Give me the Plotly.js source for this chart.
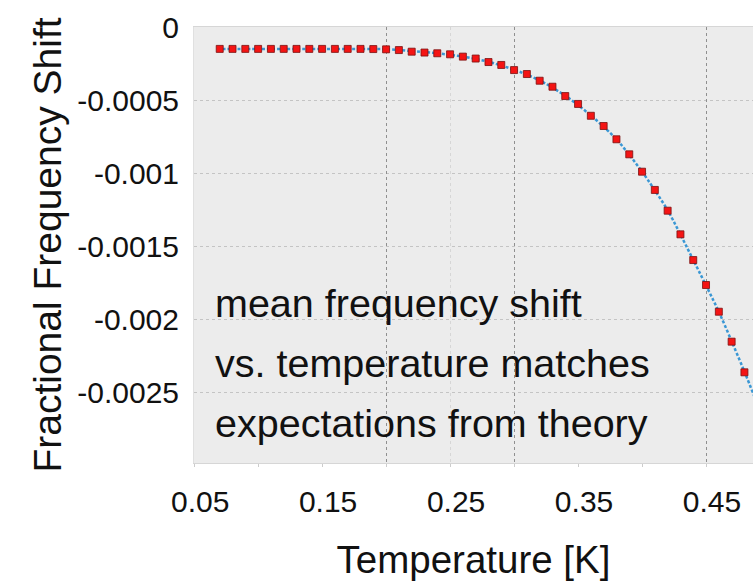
<!DOCTYPE html>
<html>
<head>
<meta charset="utf-8">
<script src="https://cdn.plot.ly/plotly-3.0.1.min.js"></script>
<style>html,body{margin:0;padding:0;background:#fff;}</style>
</head>
<body>
<div id="chart" style="width:753px;height:586px;"></div>
<script>
// Measured data (red squares)
const measT = [0.07, 0.08, 0.09, 0.10, 0.11, 0.12, 0.13, 0.14, 0.15, 0.16, 0.17, 0.18, 0.19,
  0.20, 0.21, 0.22, 0.23, 0.24, 0.25, 0.26, 0.27, 0.28, 0.29, 0.30, 0.31, 0.32, 0.33, 0.34,
  0.35, 0.36, 0.37, 0.38, 0.39, 0.40, 0.41, 0.42, 0.43, 0.44, 0.45, 0.46, 0.47, 0.48];
const measShift = [-0.000150, -0.000150, -0.000150, -0.000150, -0.000150, -0.000150, -0.000150,
  -0.000150, -0.000150, -0.000150, -0.000150, -0.000150, -0.000151,
  -0.000153, -0.000158, -0.000169, -0.000175, -0.000180, -0.000187, -0.000203, -0.000216,
  -0.000240, -0.000260, -0.000295, -0.000322, -0.000368, -0.000409, -0.000473,
  -0.000527, -0.000608, -0.000678, -0.000769, -0.000872, -0.000991, -0.001116, -0.001258,
  -0.001420, -0.001596, -0.001767, -0.001950, -0.002155, -0.002365];

// Theory curve (blue dashed)
const theoryT = [0.068, 0.10, 0.15, 0.20, 0.22, 0.24, 0.26, 0.28, 0.30, 0.32, 0.34, 0.36,
  0.38, 0.40, 0.42, 0.44, 0.46, 0.48, 0.49];
const theoryShift = [-0.000150, -0.000150, -0.000150, -0.000152, -0.000165, -0.000180,
  -0.000202, -0.000238, -0.000292, -0.000365, -0.000470, -0.000605, -0.000768, -0.000990,
  -0.001255, -0.001595, -0.001950, -0.002360, -0.002580];

// Axis ticks
const xTickVals = [0.05, 0.15, 0.25, 0.35, 0.45];
const xTickText = ['0.05', '0.15', '0.25', '0.35', '0.45'];
const yTickVals = [0, -0.0005, -0.001, -0.0015, -0.002, -0.0025];
const yTickText = ['0', '-0.0005', '-0.001', '-0.0015', '-0.002', '-0.0025'];
const xGridVals = [0.2, 0.3, 0.45];
const xFaintGridVals = [0.25];

const noteLines = ['mean frequency shift', 'vs. temperature matches', 'expectations from theory'];

const FONT = '"Liberation Sans", Arial, Helvetica, sans-serif';
const xRange = [0.0499, 0.4867];
const yRange = [-0.002986, 0];

const traces = [
  {
    x: theoryT, y: theoryShift, type: 'scatter', mode: 'lines', xaxis: 'x', yaxis: 'y',
    line: {color: '#3a97d4', width: 2.5, dash: '3px,2px', shape: 'spline', smoothing: 0.6},
    hoverinfo: 'skip', showlegend: false
  },
  {
    x: measT, y: measShift, type: 'scatter', mode: 'markers', xaxis: 'x2', yaxis: 'y',
    marker: {symbol: 'square', size: 7, color: '#f41414', line: {color: '#7a1010', width: 0.8}},
    showlegend: false
  }
];

const noteY = [0.367, 0.229, 0.0917];
const annotations = noteLines.map((t, i) => ({
  text: t, xref: 'paper', yref: 'paper', x: 0.034, y: noteY[i],
  xanchor: 'left', yanchor: 'middle', showarrow: false,
  font: {family: FONT, size: 39.5, color: '#111'}
}));

const layout = {
  width: 753, height: 586,
  margin: {l: 194, r: 0, t: 27, b: 123, pad: 0},
  paper_bgcolor: '#ffffff', plot_bgcolor: '#ececec',
  showlegend: false,
  font: {family: FONT, color: '#111'},
  xaxis: {
    range: xRange, tickmode: 'array', tickvals: xTickVals, ticktext: xTickText,
    showgrid: false, zeroline: false, showline: true, linecolor: '#d6d6d6', linewidth: 1, mirror: true,
    ticks: 'outside', ticklen: 3, tickcolor: '#cccccc',
    minor: {dtick: 0.05, tick0: 0.05, ticks: 'outside', ticklen: 3, tickcolor: '#cccccc', showgrid: false},
    ticklabelstandoff: 9, ticklabelshift: 6,
    tickfont: {family: FONT, size: 30, color: '#111'},
    title: {text: 'Temperature [K]', font: {family: FONT, size: 38.5, color: '#111'}, standoff: 29},
    automargin: false, fixedrange: true
  },
  xaxis2: {
    overlaying: 'x', anchor: 'y', range: xRange, tickmode: 'array', tickvals: xGridVals,
    showticklabels: false, ticks: '', showgrid: true, gridcolor: '#8f8f8f', griddash: '3px,3px', gridwidth: 1,
    minor: {tickmode: 'array', tickvals: xFaintGridVals, showgrid: true, gridcolor: '#d6d6d6', griddash: '3px,3px', ticks: ''},
    zeroline: false, showline: false, fixedrange: true
  },
  yaxis: {
    range: yRange, tickmode: 'array', tickvals: yTickVals, ticktext: yTickText,
    showgrid: true, gridcolor: '#c4c4c4', griddash: 'dot', gridwidth: 1,
    zeroline: false, showline: true, linecolor: '#e0e0e0', mirror: true,
    ticks: '', ticklabelstandoff: 8,
    tickfont: {family: FONT, size: 30, color: '#111'},
    title: {text: 'Fractional Frequency Shift', font: {family: FONT, size: 39, color: '#111'}, standoff: 3},
    automargin: false, fixedrange: true
  },
  annotations: annotations
};

Plotly.newPlot('chart', traces, layout, {displayModeBar: false, staticPlot: true});
</script>
</body>
</html>
